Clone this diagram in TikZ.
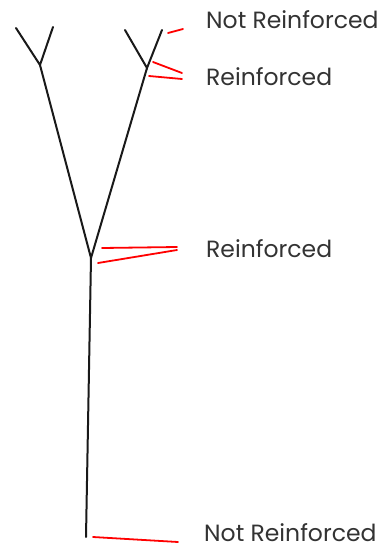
\documentclass[tikz,border=0pt]{standalone}
\usepackage{fontspec}
\setmainfont{Poppins}
\usetikzlibrary{positioning}

\tikzset{
  branch/.style={line width=2pt, black!90, line cap=round},
  pointer/.style={line width=1.8pt, red, line cap=round},
  tag/.style={anchor=base west, inner sep=0pt, text=black!80, font=\fontsize{23.5}{23.5}\selectfont}
}

\begin{document}
\begin{tikzpicture}[x=1pt, y=-1pt]
  \useasboundingbox (0,0) rectangle (385,550);

  % tree
  \coordinate (root) at (86,537);
  \coordinate (fork) at (91,258);
  \coordinate (lfork) at (40,65);
  \coordinate (rfork) at (147,68);
  \coordinate (ltipa) at (16,28);
  \coordinate (ltipb) at (53,27);
  \coordinate (rtipa) at (125,30);
  \coordinate (rtipb) at (162,30);

  \draw[branch] (root) -- (fork);
  \draw[branch] (fork) -- (lfork);
  \draw[branch] (fork) -- (rfork);
  \draw[branch] (ltipa) -- (lfork) -- (ltipb);
  \draw[branch] (rtipa) -- (rfork) -- (rtipb);

  % labels
  \node[tag] (top) at (206,28) {Not Reinforced};
  \node[tag] (upper) at (206,85) {Reinforced};
  \node[tag] (middle) at (206,257) {Reinforced};
  \node[tag] (bottom) at (204,541) {Not Reinforced};

  % red marks
  \coordinate (topa) at (168,33);
  \coordinate (topb) at (183,29);
  \coordinate (uppera) at (153,62);
  \coordinate (upperb) at (182,73);
  \coordinate (upperc) at (149,76);
  \coordinate (upperd) at (182,79);
  \coordinate (mida) at (102,248);
  \coordinate (midb) at (177,247);
  \coordinate (midc) at (98,263);
  \coordinate (midd) at (177,250);
  \coordinate (bota) at (93,537);
  \coordinate (botb) at (178,542);

  \draw[pointer] (topa) -- (topb);
  \draw[pointer] (uppera) -- (upperb);
  \draw[pointer] (upperc) -- (upperd);
  \draw[pointer] (mida) -- (midb);
  \draw[pointer] (midc) -- (midd);
  \draw[pointer] (bota) -- (botb);
\end{tikzpicture}
\end{document}
